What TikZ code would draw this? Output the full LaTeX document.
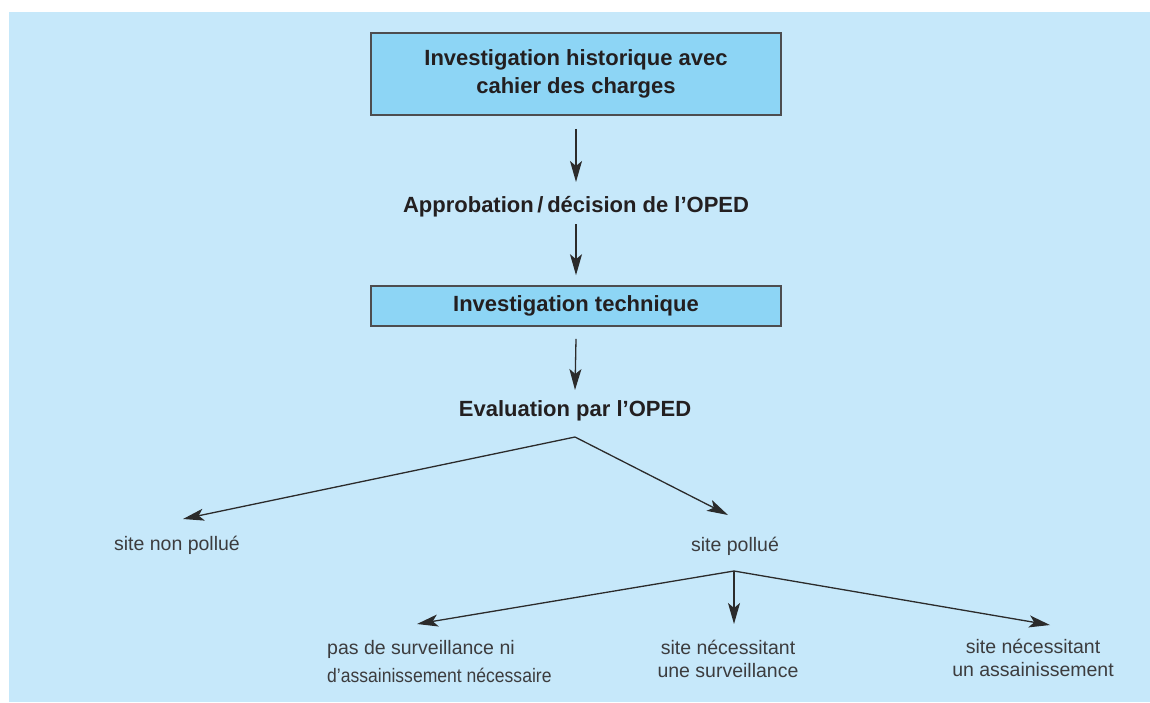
\documentclass[tikz,border=0pt]{standalone}
\usepackage{fontspec}
\setmainfont{Liberation Sans}
\usetikzlibrary{arrows.meta}
\definecolor{bgblue}{HTML}{C6E8FA}
\definecolor{boxblue}{HTML}{8DD5F5}
\definecolor{boxline}{HTML}{4D4D4F}
\definecolor{arrline}{HTML}{2B2B2B}
\definecolor{txtdark}{HTML}{231F20}
\definecolor{txtgray}{HTML}{3C3C3E}

\begin{document}
\begin{tikzpicture}[x=1pt, y=-1pt,
        b/.style={font=\fontsize{22}{28}\selectfont\bfseries, text=txtdark, align=center, inner sep=0},
        r/.style={font=\fontsize{19.5}{23}\selectfont, text=txtgray, align=center, inner sep=0},
        box/.style={b, draw=boxline, line width=1.6pt, fill=boxblue, minimum width=410pt},
        a/.style={draw=arrline, line width=1.3pt, -{Stealth[length=21pt, width=12pt, inset=5pt]}}
    ]
    \useasboundingbox (0,0) rectangle (1150,702);
    \fill[bgblue] (9,12) rectangle (1150,702);

    \node[box, minimum height=82pt] (H) at (576,74) {Investigation historique avec\\cahier des charges};
    \node[b, anchor=base] (A) at (576,212) {Approbation\,/\,décision de l’OPED};
    \node[box, minimum height=40pt] (T) at (576,306) {Investigation technique};
    \node[b, anchor=base] (E) at (575,416) {Evaluation par l’OPED};

    \node[r, anchor=base] (NP) at (177,550) {site non pollué};
    \node[r, anchor=base] (P) at (735,551) {site pollué};

    % base = last line
    \node[r, anchor=base west, align=left, font=\fontsize{19.5}{28}\selectfont] (S0) at (327,682) {pas de surveillance ni\\{\addfontfeature{FakeStretch=0.9}d’assainissement nécessaire}};
    \node[r, anchor=base] (S1) at (728,677) {site nécessitant\\une surveillance};
    \node[r, anchor=base] (S2) at (1033,676) {site nécessitant\\un assainissement};

    \draw[a] ([yshift=-13pt]H.south) -- ([yshift=30pt]A.base);
    \draw[a] ([yshift=-12pt]A.base) -- ([yshift=10pt]T.north);
    \draw[a] ([yshift=-12pt]T.south) -- ([yshift=26pt]E.base);

    \coordinate (E0) at ([yshift=-21pt]E.base);
    \draw[a] (E0) -- ([xshift=6pt, yshift=31pt]NP.base);
    \draw[a] (E0) -- ([xshift=-7pt, yshift=36pt]P.base);

    \coordinate (P0) at ([xshift=-1pt, yshift=-20pt]P.base);
    \draw[a] (P0) -- ([xshift=90pt, yshift=58pt]S0.base west);
    \draw[a] (P0) -- ([xshift=6pt, yshift=53pt]S1.base);
    \draw[a] (P0) -- ([xshift=17pt, yshift=51pt]S2.base);
\end{tikzpicture}
\end{document}
